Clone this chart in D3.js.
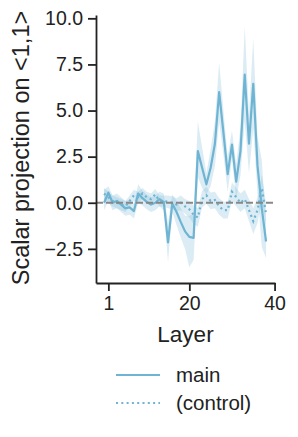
<!DOCTYPE html>
<html>
<head>
<meta charset="utf-8">
<script src="https://cdn.jsdelivr.net/npm/d3@7"></script>
<style>
  body { margin: 0; background: #fff; }
  svg { display: block; font-family: "Liberation Sans", Arial, sans-serif; }
</style>
</head>
<body>
<svg width="298" height="437"></svg>
<script>
// layers (x positions)
var layers = [0,1,2,3,4,5,6,7,8,9,10,11,12,13,14,15,16,17,18,19,20,21,22,23,24,25,26,27,28,29,30,31,32,33,34,35,36,37,38];

// main series: mean and 95% band
var mainMean = [0.0,0.55,0.0,0.1,-0.1,-0.3,-0.25,-0.45,0.5,0.25,0.05,-0.1,0.0,0.2,0.05,-2.15,-0.05,-0.5,-1.05,-1.55,-1.85,-1.9,2.8,1.9,1.0,1.9,3.2,6.0,3.8,1.55,3.15,1.15,2.8,6.95,3.2,6.45,2.0,-0.3,-2.1];
var mainLo   = [-0.4,0.1,-0.4,-0.3,-0.5,-0.7,-0.65,-0.85,0.0,-0.15,-0.35,-0.5,-0.4,-0.2,-0.4,-3.2,-0.5,-1.2,-1.9,-2.5,-3.5,-3.1,1.4,0.8,0.45,0.9,2.0,4.4,2.6,0.6,2.4,0.2,1.5,4.4,1.6,4.0,0.5,-2.4,-3.0];
var mainHi   = [0.7,0.9,0.4,0.5,0.3,0.1,0.15,-0.05,1.0,0.65,0.45,0.3,0.4,0.6,0.5,-1.1,0.45,0.1,-0.3,-0.7,-0.7,-0.6,4.4,3.0,1.6,2.9,4.4,7.6,5.0,2.5,3.9,2.1,4.1,9.55,4.8,8.9,3.6,2.3,-1.2];

// control series
var ctrlMean = [0.5,0.3,0.1,0.0,-0.1,-0.2,0.1,0.4,0.3,0.5,0.3,0.2,0.45,0.1,0.1,0.05,0.0,-0.1,0.0,-0.2,-0.35,-0.65,-0.8,0.2,0.4,0.1,0.15,-0.2,-0.4,-0.4,0.6,0.3,0.0,0.2,-0.4,-1.0,-0.4,0.8,-0.6];
var ctrlLo   = [0.2,0.0,-0.2,-0.3,-0.4,-0.5,-0.2,0.1,0.0,0.2,0.0,-0.1,0.15,-0.2,-0.2,-0.3,-0.35,-0.45,-0.4,-0.6,-0.8,-1.15,-1.3,-0.25,-0.05,-0.35,-0.3,-0.65,-0.85,-0.85,0.1,-0.2,-0.5,-0.3,-1.0,-1.7,-1.1,0.1,-1.2];
var ctrlHi   = [0.8,0.6,0.4,0.3,0.2,0.1,0.4,0.7,0.6,0.8,0.6,0.5,0.75,0.4,0.4,0.4,0.35,0.25,0.4,0.2,0.1,-0.15,-0.3,0.65,0.85,0.55,0.6,0.25,0.05,0.05,1.1,0.8,0.5,0.7,0.2,-0.3,0.3,1.5,0.0];

var xTicks = [1, 20, 40];
var yTicks = [-2.5, 0, 2.5, 5, 7.5, 10];
var seriesNames = ["main", "(control)"];

var color = "#6fb4d2";
var ink = "#222";

var svg = d3.select("svg");

var x = d3.scaleLinear().domain([-1.9, 40.1]).range([96, 275]);
var y = d3.scaleLinear().domain([-4.35, 10.18]).range([283, 15]);

function rows(mean, lo, hi) {
  return layers.map(function(l, i) { return {l: l, m: mean[i], lo: lo[i], hi: hi[i]}; });
}
var mainData = rows(mainMean, mainLo, mainHi);
var ctrlData = rows(ctrlMean, ctrlLo, ctrlHi);

var area = d3.area()
  .x(function(d) { return x(d.l); })
  .y0(function(d) { return y(d.lo); })
  .y1(function(d) { return y(d.hi); });
var line = d3.line()
  .x(function(d) { return x(d.l); })
  .y(function(d) { return y(d.m); });

// bands
svg.append("path").datum(mainData).attr("d", area)
  .attr("fill", color).attr("fill-opacity", 0.25);
svg.append("path").datum(ctrlData).attr("d", area)
  .attr("fill", color).attr("fill-opacity", 0.25);

// lines
svg.append("path").datum(mainData).attr("d", line)
  .attr("fill", "none").attr("stroke", color).attr("stroke-width", 2.2)
  .attr("stroke-linejoin", "round");
svg.append("path").datum(ctrlData).attr("d", line)
  .attr("fill", "none").attr("stroke", color).attr("stroke-width", 2.2)
  .attr("stroke-dasharray", "2,3.3");

// zero line
svg.append("line")
  .attr("x1", x.range()[0]).attr("x2", x.range()[1])
  .attr("y1", y(0)).attr("y2", y(0))
  .attr("stroke", "#888").attr("stroke-width", 1.8)
  .attr("stroke-dasharray", "7,3");

// axes
var xAxis = svg.append("g")
  .attr("transform", "translate(0," + y.range()[0] + ")")
  .call(d3.axisBottom(x).tickValues(xTicks).tickSize(8).tickPadding(5).tickSizeOuter(0));
var yAxis = svg.append("g")
  .attr("transform", "translate(" + x.range()[0] + ",0)")
  .call(d3.axisLeft(y).tickValues(yTicks).tickSize(8).tickPadding(5).tickSizeOuter(0)
    .tickFormat(function(d) { return d3.format(".1f")(d).replace("-", "\u2212"); }));

[xAxis, yAxis].forEach(function(a) {
  a.select(".domain").attr("stroke", ink).attr("stroke-width", 1.8);
  a.selectAll(".tick line").attr("stroke", ink).attr("stroke-width", 1.8);
  a.selectAll(".tick text").attr("fill", ink).style("font-size", "19.5px")
    .style("font-family", "'Liberation Sans', Arial, sans-serif");
});

// axis labels
svg.append("text")
  .attr("x", (x.range()[0] + x.range()[1]) / 2).attr("y", 342)
  .attr("text-anchor", "middle").attr("fill", ink)
  .style("font-size", "22.5px").text("Layer");
svg.append("text")
  .attr("transform", "translate(29,148) rotate(-90)")
  .attr("text-anchor", "middle").attr("fill", ink)
  .style("font-size", "23.5px").text("Scalar projection on <1,1>");

// legend
var legend = svg.append("g").attr("transform", "translate(116,375)");
seriesNames.forEach(function(name, i) {
  var row = legend.append("g").attr("transform", "translate(0," + (i * 28) + ")");
  row.append("line").attr("x1", 0).attr("x2", 44).attr("y1", 0).attr("y2", 0)
    .attr("stroke", color).attr("stroke-width", 2.2)
    .attr("stroke-dasharray", i === 1 ? "2,3.3" : null);
  row.append("text").attr("x", 60).attr("y", 7).attr("fill", ink)
    .style("font-size", "20.5px").text(name);
});
</script>
</body>
</html>
